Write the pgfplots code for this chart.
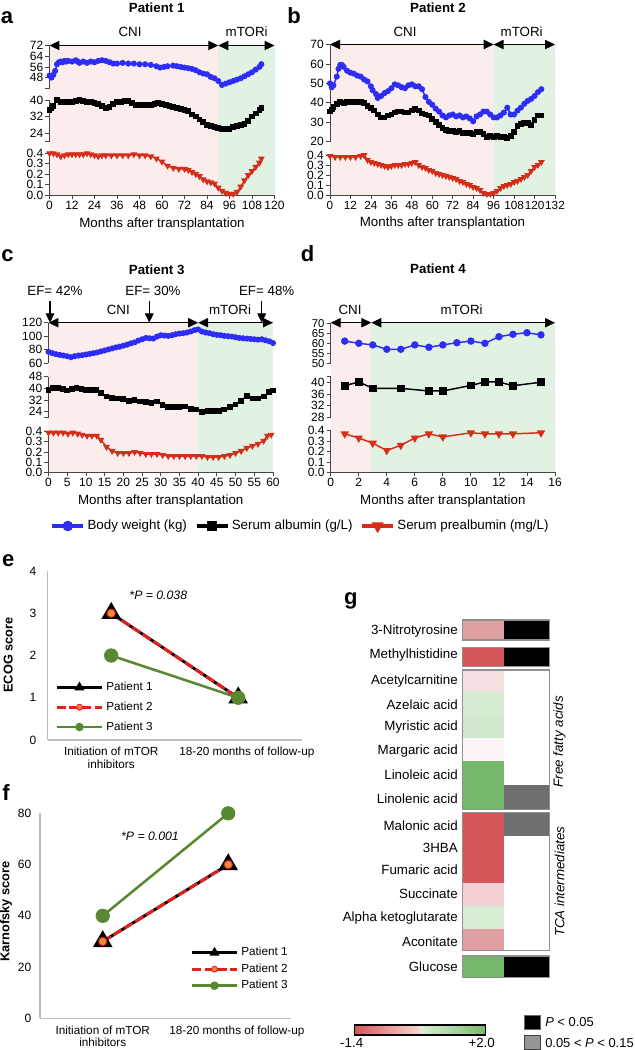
\documentclass[border=0pt]{standalone}
\usepackage{fontspec}
\setmainfont{Liberation Sans}
\usepackage{pgfplots}
\pgfplotsset{compat=1.18}
\usetikzlibrary{arrows.meta}
\def\px{0.75pt}
\newcommand\tickfont{\fontsize{9}{9.5}\selectfont}
\newcommand\lblfont{\fontsize{10}{12}\selectfont}
\newcommand\sfont{\fontsize{8.8}{9.4}\selectfont}
\newcommand\titlefont{\fontsize{10}{12}\selectfont\bfseries}
\newcommand\letterfont{\fontsize{16.5}{18}\selectfont\bfseries}
\definecolor{bwblue}{RGB}{45,45,245}
\definecolor{pared}{RGB}{212,45,25}
\definecolor{bgpink}{RGB}{251,237,236}
\definecolor{bggreen}{RGB}{226,242,226}
\definecolor{axgray}{RGB}{70,70,70}
\definecolor{lightax}{RGB}{190,190,190}
\definecolor{pgreen}{RGB}{88,136,48}
\definecolor{porange}{RGB}{232,140,60}
\definecolor{pred}{RGB}{228,32,28}
\definecolor{hmred}{RGB}{211,87,88}
\definecolor{hmpink}{RGB}{224,160,162}
\definecolor{hmgreen}{RGB}{116,184,106}
\definecolor{hmgrey}{RGB}{110,110,110}
\definecolor{frgray}{RGB}{145,145,145}
\pgfplotsset{
  /pgf/number format/assume math mode=true,
  bgax/.style={scale only axis, anchor=north west, axis y line=none, axis x line=bottom,
    x axis line style={-, draw=axgray, line width=0.6pt}, xtick style={draw=axgray, line width=0.6pt},
    tick align=outside, major tick length=3pt, xticklabel style={font=\tickfont, inner xsep=0pt, inner ysep=1.5pt},
    ymin=0, ymax=1, clip=false, axis on top, xlabel={Months after transplantation},
    xlabel style={font=\lblfont, inner sep=1pt, yshift=-3pt}},
  seg/.style={scale only axis, anchor=north west, axis x line=none, axis y line=left,
    y axis line style={-, draw=axgray, line width=0.6pt}, ytick style={draw=axgray, line width=0.6pt},
    tick align=outside, major tick length=3pt, yticklabel style={font=\tickfont, inner xsep=1.5pt, inner ysep=0pt},
    clip=false, xtick=\empty},
  bw/.style={color=bwblue, line width=1.1pt, mark=*, mark size=1.7pt, mark options={solid, fill=bwblue}},
  alb/.style={color=black, line width=1.1pt, mark=square*, mark size=1.6pt, mark options={solid, fill=black}},
  pre/.style={color=pared, line width=1.1pt, mark=triangle*, mark size=1.9pt, mark options={solid, fill=pared, rotate=180}},
  scoreax/.style={scale only axis, anchor=south west, xmin=-0.5, xmax=1.5, xtick={0,1},
    xticklabels={{Initiation of mTOR\\inhibitors},{\hbox{\kern13pt 18-20 months of follow-up}}},
    xticklabel style={font=\sfont, align=center, yshift=-2pt},
    yticklabel style={font=\fontsize{9}{9}\selectfont},
    axis x line*=bottom, axis y line*=left, axis line style={-, draw=lightax, line width=0.8pt},
    major tick length=0pt, tick style={draw=none}, clip=false,
    legend style={draw=none, fill=none, font=\sfont, inner sep=0pt, cells={anchor=west}},
    legend cell align=left,
    legend image code/.code={\draw[mark repeat=2,mark phase=2,##1] plot coordinates {(0pt,0pt) (17pt,0pt) (34pt,0pt)};},
    legend image post style={mark size=2.2pt}},
  p1/.style={color=black, line width=2.2pt, mark=triangle*, mark size=6.3pt, mark options={solid, fill=black}},
  p2/.style={color=pred, line width=2.2pt, dash pattern=on 7pt off 2.5pt, mark=*, mark size=3.1pt, mark options={solid, fill=porange, draw=pred, line width=0.7pt}},
  p3/.style={color=pgreen, line width=1.9pt, mark=*, mark size=4.4pt, mark options={solid, fill=pgreen}},
}
\tikzset{dbl/.style={{Triangle[length=7.5pt,width=7pt]}-{Triangle[length=7.5pt,width=7pt]}, line width=0.8pt},
  efarrow/.style={-{Triangle[length=7pt,width=6.5pt]}, line width=0.8pt}}
\newcommand{\hcell}[5]{\addplot[draw=none, fill=#1] coordinates {(#2,#4) (#3,#4) (#3,#5) (#2,#5)} -- cycle;}
\begin{document}
\begin{tikzpicture}
\useasboundingbox (0,0) rectangle (635*\px,-1050*\px);
% ================= Panel a =================
\begin{axis}[bgax, at={(49.5*\px,-45.5*\px)}, width=168.75pt, height=112.13pt, xmin=0, xmax=120, xtick={0,12,...,120}]
\addplot[draw=none, fill=bgpink] coordinates {(0,0) (90,0) (90,1) (0,1)} -- cycle;
\addplot[draw=none, fill=bggreen] coordinates {(90,0) (120,0) (120,1) (90,1)} -- cycle;
\draw[dbl] (axis cs:0,1) -- (axis cs:90,1);
\draw[dbl] (axis cs:90,1) -- (axis cs:120,1);
\end{axis}
\begin{axis}[seg, at={(49.5*\px,-45.5*\px)}, width=168.75pt, height=32.1pt, xmin=0, xmax=120, ymin=40, ymax=72, ytick={40,48,56,64,72}, yticklabels={,48,56,64,72}]
\addplot[bw] coordinates {(0,49.5) (1,48) (2,50) (3,53) (4,58) (5,59.5) (6,60) (7,59.5) (8,60.5) (9,60) (10,60.5) (12,60) (14,61) (15,60) (16,59) (18,60) (20,59) (22,60) (24,59.5) (26,60.5) (28,61) (30,60.5) (32,59.5) (34,58.5) (36,58.5) (39,59) (42,58.5) (45,58.5) (48,58) (51,58) (54,57.5) (57,56.5) (59,55.5) (61,56) (63,56.5) (66,57) (68,56.5) (70,56) (72,55.5) (74,55) (76,54.5) (78,53.5) (80,52) (82,51) (84,50.5) (86,48.5) (88,47.5) (90,45.5) (92,42.5) (94,43.5) (96,44.5) (98,45.5) (100,46.5) (102,47.5) (104,49) (106,50.5) (108,52) (110,54) (112,56) (113,58)};
\end{axis}
\begin{axis}[seg, at={(49.5*\px,-100*\px)}, width=168.75pt, height=30.98pt, xmin=0, xmax=120, ymin=20, ymax=40, ytick={20,24,32,40}, yticklabels={,24,32,40}]
\addplot[alb] coordinates {(0,35) (1,36) (2,37) (4,40) (6,39) (8,39) (10,39) (12,39) (14,39.5) (16,40) (18,39.5) (20,39) (22,39) (24,38.5) (26,38) (28,37) (30,36) (32,36.5) (34,38) (36,39) (38,39) (40,39.5) (42,39.5) (44,38.5) (46,37.5) (48,37.5) (50,37.5) (52,37.5) (54,37.5) (56,38) (58,38.5) (60,38) (62,37.5) (64,37) (66,36.5) (68,36) (70,35.5) (72,35) (74,34.5) (76,33) (78,32) (80,30.5) (82,29.5) (84,28) (86,27.5) (88,27) (90,26.5) (92,26) (94,26) (96,26) (98,27) (100,27.5) (102,28) (104,28.5) (106,30) (108,32) (110,33.5) (112,35) (113,36)};
\end{axis}
\begin{axis}[seg, at={(49.5*\px,-153.3*\px)}, width=168.75pt, height=31.28pt, xmin=0, xmax=120, ymin=0, ymax=0.4, ytick={0,0.1,0.2,0.3,0.4}, yticklabels={0.0,0.1,0.2,0.3,0.4}]
\addplot[pre] coordinates {(0,0.40) (2,0.40) (4,0.39) (6,0.37) (8,0.38) (10,0.39) (12,0.39) (14,0.39) (16,0.39) (18,0.39) (20,0.40) (22,0.39) (24,0.38) (26,0.37) (28,0.38) (30,0.38) (33,0.38) (36,0.38) (39,0.38) (42,0.38) (45,0.39) (48,0.38) (51,0.38) (54,0.37) (57,0.35) (60,0.32) (63,0.28) (66,0.26) (69,0.25) (72,0.25) (74,0.24) (76,0.22) (78,0.20) (80,0.18) (82,0.15) (84,0.13) (86,0.12) (88,0.11) (90,0.07) (92,0.04) (94,0.02) (96,0.01) (98,0.01) (100,0.03) (102,0.08) (104,0.14) (106,0.19) (108,0.23) (110,0.27) (112,0.31) (113,0.35)};
\end{axis}
\node[font=\letterfont] at (7*\px,-17.5*\px) {a};
\node[font=\titlefont] at (156.7*\px,-7.5*\px) {Patient 1};
\node[font=\lblfont] at (130*\px,-32*\px) {CNI};
\node[font=\lblfont] at (246.7*\px,-32*\px) {mTORi};
% ================= Panel b =================
\begin{axis}[bgax, at={(330*\px,-44.5*\px)}, width=168.75pt, height=112.88pt, xmin=0, xmax=132, xtick={0,12,...,132},
  xticklabel style={font=\fontsize{8.8}{9.5}\selectfont}]
\addplot[draw=none, fill=bgpink] coordinates {(0,0) (96,0) (96,1) (0,1)} -- cycle;
\addplot[draw=none, fill=bggreen] coordinates {(96,0) (132,0) (132,1) (96,1)} -- cycle;
\draw[dbl] (axis cs:0,1) -- (axis cs:96,1);
\draw[dbl] (axis cs:96,1) -- (axis cs:132,1);
\end{axis}
\begin{axis}[seg, at={(330*\px,-44.5*\px)}, width=168.75pt, height=72.9pt, xmin=0, xmax=132, ymin=20, ymax=70, ytick={20,30,...,70}]
\addplot[bw] coordinates {(0,50) (1,48) (2,49) (4,53.5) (5,57.5) (6,59.5) (7,59.5) (8,58.5) (10,56.5) (12,55.5) (14,55) (16,54) (18,53.5) (20,52) (22,51) (24,48.5) (25,46.5) (27,44.5) (28,42.5) (30,43.5) (32,45) (34,46) (36,47.5) (38,49.5) (40,49) (42,48) (44,47.5) (46,49) (48,49.5) (50,48.5) (52,48.5) (54,47) (56,43) (58,40.5) (60,39) (62,37) (64,35.5) (66,33.5) (68,32.5) (70,33.5) (72,34) (74,33) (76,33.5) (78,32.5) (80,33) (82,32) (84,30.5) (86,33) (88,34) (90,35.5) (92,35.5) (94,34) (96,32.5) (98,32.5) (100,33.5) (102,35) (104,37.5) (106,34) (108,34) (110,36) (112,37.5) (114,39.5) (116,41) (118,42) (120,43.5) (122,45.5) (124,47)};
\addplot[alb] coordinates {(0,35.5) (1,36.5) (2,38) (4,39.5) (6,40.5) (8,40) (10,40.5) (12,40.5) (14,40.5) (16,40.5) (18,40.5) (20,40) (22,38.5) (24,37.5) (26,36) (28,34) (30,32.5) (32,32.5) (34,33.5) (36,34) (38,35) (40,35.5) (42,35.5) (44,35) (46,35) (48,36) (50,37) (52,36) (54,34.5) (56,34) (58,33.5) (60,31.5) (62,30) (64,28.5) (66,27) (68,26) (70,25.5) (72,25.5) (74,25) (76,25.5) (78,24.5) (80,24.5) (82,24.5) (84,24) (86,25) (88,25) (90,24) (92,22.5) (94,23) (96,22.5) (98,23) (100,22.5) (102,22.5) (104,22) (106,23) (108,25) (110,28) (112,29) (114,29.5) (116,29.5) (118,28.5) (120,31) (122,33.5) (124,33.5)};
\end{axis}
\begin{axis}[seg, at={(330*\px,-155*\px)}, width=168.75pt, height=30pt, xmin=0, xmax=132, ymin=0, ymax=0.4, ytick={0,0.1,0.2,0.3,0.4}, yticklabels={0.0,0.1,0.2,0.3,0.4}]
\addplot[pre] coordinates {(0,0.39) (3,0.38) (6,0.38) (9,0.38) (12,0.38) (15,0.38) (18,0.39) (20,0.40) (22,0.35) (24,0.33) (26,0.32) (28,0.31) (30,0.30) (32,0.29) (34,0.28) (36,0.29) (38,0.30) (40,0.30) (42,0.30) (44,0.31) (46,0.31) (48,0.32) (50,0.33) (52,0.30) (54,0.28) (56,0.27) (58,0.25) (60,0.24) (62,0.22) (64,0.21) (66,0.20) (68,0.19) (70,0.18) (72,0.17) (74,0.16) (76,0.14) (78,0.13) (80,0.11) (82,0.10) (84,0.08) (86,0.07) (88,0.05) (90,0.02) (92,0.01) (94,0.01) (96,0.02) (98,0.04) (100,0.07) (102,0.09) (104,0.10) (106,0.11) (108,0.13) (110,0.14) (112,0.16) (114,0.18) (116,0.20) (118,0.24) (120,0.28) (122,0.30) (124,0.33)};
\end{axis}
\node[font=\letterfont] at (294*\px,-15.8*\px) {b};
\node[font=\titlefont] at (438*\px,-7.5*\px) {Patient 2};
\node[font=\lblfont] at (405*\px,-32*\px) {CNI};
\node[font=\lblfont] at (521.7*\px,-32*\px) {mTORi};
% ================= Panel c =================
\begin{axis}[bgax, at={(48.5*\px,-322.7*\px)}, width=168.38pt, height=112.2pt, xmin=0, xmax=60, xtick={0,5,...,60}]
\addplot[draw=none, fill=bgpink] coordinates {(0,0) (40,0) (40,1) (0,1)} -- cycle;
\addplot[draw=none, fill=bggreen] coordinates {(40,0) (60,0) (60,1) (40,1)} -- cycle;
\draw[dbl] (axis cs:0,1) -- (axis cs:40,1);
\draw[dbl] (axis cs:40,1) -- (axis cs:60,1);
\end{axis}
\begin{axis}[seg, at={(48.5*\px,-322.7*\px)}, width=168.38pt, height=30.45pt, xmin=0, xmax=60, ymin=60, ymax=120, ytick={60,80,100,120}]
\addplot[bw] coordinates {(0,77) (1,75) (2,73.5) (3,72.5) (4,71.5) (5,70.5) (6,69) (7,70.5) (8,71.5) (9,72) (10,73) (11,74) (12,75) (13,76) (14,77.5) (15,79) (16,80.5) (17,82) (18,83.5) (19,84.5) (20,86) (21,87.5) (22,89.5) (23,91) (24,93.5) (25,95.5) (26,97.5) (27,97) (28,96.5) (29,99.5) (30,101.5) (31,101) (32,100.5) (33,101.5) (34,103) (35,104) (36,104.5) (37,105.5) (38,107) (39,109) (40,110) (41,107) (42,105.5) (43,104.5) (44,103) (45,102) (46,101.5) (47,100.5) (48,100) (49,99.5) (50,98.5) (51,97.5) (52,97) (53,96.5) (54,96) (55,95.5) (56,95) (57,95.5) (58,94) (59,92.5) (60,90)};
\end{axis}
\begin{axis}[seg, at={(48.5*\px,-376.7*\px)}, width=168.38pt, height=30.6pt, xmin=0, xmax=60, ymin=20, ymax=48, ytick={20,24,32,40,48}, yticklabels={,24,32,40,48}]
\addplot[alb] coordinates {(0,39) (1.3,40) (2.6,40.5) (3.9,39.5) (5,38.5) (6.3,39.5) (7.5,40.5) (8.8,39.5) (10,39) (11.3,39) (12.6,39) (14,37) (15.5,34.5) (17,33.5) (18.5,33) (20,32.5) (21.5,31.5) (23,32) (24.5,31) (26,30.5) (27.5,30) (29,31) (30.5,28.5) (32,27) (33.5,27) (35,27) (36.5,27.5) (38,26) (39.5,25.5) (41,24) (42.5,24.5) (44,24.5) (45.5,24.5) (47,25.5) (48.5,27) (50,29) (51.5,31.5) (53,35) (54.5,33) (56,33) (57.5,34.5) (59,37.5) (60,38.5)};
\end{axis}
\begin{axis}[seg, at={(48.5*\px,-431.7*\px)}, width=168.38pt, height=30.45pt, xmin=0, xmax=60, ymin=0, ymax=0.4, ytick={0,0.1,0.2,0.3,0.4}, yticklabels={0.0,0.1,0.2,0.3,0.4}]
\addplot[pre] coordinates {(0,0.39) (1.3,0.39) (2.6,0.39) (3.9,0.39) (5.2,0.38) (6.5,0.39) (7.8,0.38) (9,0.37) (10.3,0.36) (11.6,0.36) (12.9,0.36) (14,0.32) (15.5,0.25) (17,0.21) (18.5,0.19) (20,0.19) (21.5,0.19) (23,0.20) (24.5,0.19) (26,0.18) (27.5,0.18) (29,0.18) (30.5,0.17) (32,0.16) (33.5,0.16) (35,0.16) (36.5,0.16) (38,0.16) (39.5,0.16) (41,0.16) (42.5,0.15) (44,0.15) (45.5,0.15) (47,0.16) (48.5,0.17) (50,0.19) (51.5,0.21) (53,0.24) (54.5,0.26) (56,0.28) (57.5,0.31) (58.5,0.36) (59.5,0.37)};
\end{axis}
\node[font=\letterfont] at (7.5*\px,-255.8*\px) {c};
\node[font=\titlefont] at (156.7*\px,-269.3*\px) {Patient 3};
\node[font=\lblfont] at (118.3*\px,-310*\px) {CNI};
\node[font=\lblfont] at (230*\px,-310*\px) {mTORi};
\node[font=\lblfont] at (55*\px,-291*\px) {EF= 42\%};
\node[font=\lblfont] at (153*\px,-291*\px) {EF= 30\%};
\node[font=\lblfont] at (266.7*\px,-291*\px) {EF= 48\%};
\draw[efarrow] (50*\px,-301*\px) -- (50*\px,-322.7*\px);
\draw[efarrow] (149.3*\px,-301*\px) -- (149.3*\px,-322.7*\px);
\draw[efarrow] (261.7*\px,-301*\px) -- (261.7*\px,-322.7*\px);
% ================= Panel d =================
\begin{axis}[bgax, at={(330.7*\px,-322.7*\px)}, width=168.23pt, height=112.2pt, xmin=0, xmax=16, xtick={0,2,...,16}]
\addplot[draw=none, fill=bgpink] coordinates {(0,0) (2.9,0) (2.9,1) (0,1)} -- cycle;
\addplot[draw=none, fill=bggreen] coordinates {(2.9,0) (16,0) (16,1) (2.9,1)} -- cycle;
\draw[dbl] (axis cs:0,1) -- (axis cs:2.9,1);
\draw[dbl] (axis cs:2.9,1) -- (axis cs:16,1);
\end{axis}
\begin{axis}[seg, at={(330.7*\px,-323.3*\px)}, width=168.23pt, height=30pt, xmin=0, xmax=16, ymin=50, ymax=70, ytick={50,55,60,65,70},
  yticklabel style={font=\fontsize{8.5}{9}\selectfont}]
\addplot[bw, mark size=2.2pt] coordinates {(1,61.1) (2,60) (3,59.2) (4,57) (5,57) (6,59.2) (7,58) (8,59.2) (9,60.3) (10,61.1) (11,60) (12,63.3) (13,64.5) (14,65.3) (15,64.2)};
\end{axis}
\begin{axis}[seg, at={(330.7*\px,-376.1*\px)}, width=168.23pt, height=31.05pt, xmin=0, xmax=16, ymin=28, ymax=42.2, ytick={28,32,36,40,42.2}, yticklabels={28,32,36,40,}]
\addplot[alb, mark size=2.3pt] coordinates {(1,38.9) (2,40.2) (3,38) (5,38) (7,37.1) (8,37.1) (10,39) (11,40.2) (12,40.2) (13,38.9) (15,40.1)};
\end{axis}
\begin{axis}[seg, at={(330.7*\px,-430.7*\px)}, width=168.23pt, height=31.2pt, xmin=0, xmax=16, ymin=0, ymax=0.4, ytick={0,0.1,0.2,0.3,0.4}, yticklabels={0.0,0.1,0.2,0.3,0.4}]
\addplot[pre, mark size=2.6pt] coordinates {(1,0.37) (2,0.33) (3,0.28) (4,0.21) (5,0.26) (6,0.33) (7,0.37) (8,0.34) (10,0.38) (11,0.37) (12,0.37) (13,0.37) (15,0.38)};
\end{axis}
\node[font=\letterfont] at (307.5*\px,-253.3*\px) {d};
\node[font=\titlefont] at (438*\px,-268.3*\px) {Patient 4};
\node[font=\lblfont] at (350*\px,-310*\px) {CNI};
\node[font=\lblfont] at (461.7*\px,-310*\px) {mTORi};
% ================= shared legend =================
\begin{axis}[hide axis, scale only axis, width=10pt, height=10pt, at={(301*\px,-526*\px)}, anchor=center,
  xmin=0, xmax=1, ymin=0, ymax=1, legend columns=3,
  legend style={at={(0.5,0.5)}, anchor=center, draw=none, fill=none, font=\lblfont, inner sep=0pt,
    /tikz/every even column/.append style={column sep=4pt}},
  legend image code/.code={\draw[mark repeat=2,mark phase=2,#1] plot coordinates {(0pt,0pt) (11.6pt,0pt) (23.25pt,0pt)};}]
\addlegendimage{color=bwblue, line width=2.4pt, mark=*, mark size=2.7pt, mark options={solid, fill=bwblue}}
\addlegendentry{Body weight (kg)}
\addlegendimage{color=black, line width=2.4pt, mark=square*, mark size=2.6pt, mark options={solid, fill=black}}
\addlegendentry{Serum albumin (g/L)}
\addlegendimage{color=pared, line width=2.4pt, mark=triangle*, mark size=3pt, mark options={solid, fill=pared, rotate=180}}
\addlegendentry{Serum prealbumin (mg/L)}
\end{axis}
% ================= Panel e =================
\begin{axis}[scoreax, at={(47.7*\px,-740*\px)}, width=190.5pt, height=126.75pt, ymin=0, ymax=4, ytick={0,1,2,3,4},
  yticklabel style={xshift=-5pt}, legend style={at={(0.029,0.36)}, anchor=north west, row sep=3pt}]
\addplot[p1] coordinates {(0,3) (1,1)};
\addlegendentry{Patient 1}
\addplot[p2] coordinates {(0,3) (1,1)};
\addlegendentry{Patient 2}
\addplot[p3] coordinates {(0,2) (1,1)};
\addlegendentry{Patient 3}
\end{axis}
\node[font=\letterfont] at (8.3*\px,-561*\px) {e};
\node[rotate=90, font=\fontsize{9.6}{10}\selectfont\bfseries] at (8.3*\px,-655*\px) {ECOG score};
\node[font=\fontsize{9.2}{10}\selectfont\itshape] at (158.3*\px,-595*\px) {*P = 0.038};
% ================= Panel f =================
\begin{axis}[scoreax, at={(40*\px,-1018.3*\px)}, width=188.25pt, height=153.75pt, ymin=0, ymax=80, ytick={0,20,...,80},
  yticklabel style={xshift=-3pt}, legend style={at={(0.598,0.36)}, anchor=north west, row sep=0.5pt}]
\addplot[p1] coordinates {(0,30) (1,60)};
\addlegendentry{Patient 1}
\addplot[p2] coordinates {(0,30) (1,60)};
\addlegendentry{Patient 2}
\addplot[p3] coordinates {(0,40) (1,80)};
\addlegendentry{Patient 3}
\end{axis}
\node[font=\letterfont] at (6*\px,-793*\px) {f};
\node[rotate=90, font=\fontsize{9.6}{10}\selectfont\bfseries] at (6*\px,-911.7*\px) {Karnofsky score};
\node[font=\fontsize{9.2}{10}\selectfont\itshape] at (150*\px,-836.7*\px) {*P = 0.001};
% ================= Panel g =================
\begin{axis}[scale only axis, anchor=north west, at={(460*\px,-615*\px)}, width=75pt, height=273.75pt,
  xmin=460, xmax=560, ymin=615, ymax=980, y dir=reverse, axis x line=none, axis y line=left,
  y axis line style={draw=none}, ytick style={draw=none}, major tick length=0pt, clip=false,
  ytick={631,655,680.7,705,727.3,751,775,799,826,848.3,869.3,893.3,918.3,941.7,966.7},
  yticklabels={3-Nitrotyrosine,Methylhistidine,Acetylcarnitine,Azelaic acid,Myristic acid,Margaric acid,Linoleic acid,Linolenic acid,Malonic acid,3HBA,Fumaric acid,Succinate,Alpha ketoglutarate,Aconitate,Glucose},
  yticklabel style={font=\lblfont, inner xsep=1.5pt, inner ysep=0pt}]
\hcell{hmpink}{462.7}{504.3}{620}{640}
\hcell{black}{504.3}{549.3}{620}{640}
\hcell{hmred}{462.7}{504.3}{647.3}{666.7}
\hcell{black}{504.3}{549.3}{647.3}{666.7}
\hcell{white}{462.7}{549.3}{670}{809.3}
\hcell{{rgb,255:red,245;green,223;blue,224}}{462.7}{504.3}{671}{690.7}
\hcell{{rgb,255:red,214;green,235;blue,210}}{462.7}{504.3}{690.7}{715}
\hcell{{rgb,255:red,210;green,232;blue,206}}{462.7}{504.3}{715}{738.3}
\hcell{{rgb,255:red,252;green,244;blue,245}}{462.7}{504.3}{738.3}{761}
\hcell{hmgreen}{462.7}{504.3}{761}{808.5}
\hcell{hmgrey}{504.3}{549.3}{785}{808.5}
\hcell{hmred}{462.7}{504.3}{813.3}{882.7}
\hcell{hmgrey}{504.3}{549.3}{813.3}{836}
\hcell{{rgb,255:red,242;green,208;blue,212}}{462.7}{504.3}{882.7}{905.7}
\hcell{{rgb,255:red,216;green,236;blue,212}}{462.7}{504.3}{905.7}{929}
\hcell{hmpink}{462.7}{504.3}{929}{950.7}
\hcell{hmgreen}{462.7}{504.3}{956}{977.3}
\hcell{black}{504.3}{549.3}{956}{977.3}
\draw[frgray, line width=1.1pt] (axis cs:462.7,620) rectangle (axis cs:549.3,640);
\draw[frgray, line width=1.1pt] (axis cs:462.7,647.3) rectangle (axis cs:549.3,666.7);
\draw[frgray, line width=1.1pt] (axis cs:462.7,670) rectangle (axis cs:549.3,809.3);
\draw[frgray, line width=1.1pt] (axis cs:462.7,812.7) rectangle (axis cs:549.3,950.7);
\draw[frgray, line width=1.1pt] (axis cs:462.7,956) rectangle (axis cs:549.3,977.3);
\end{axis}
\node[font=\letterfont] at (350.8*\px,-601*\px) {g};
\node[rotate=90, font=\lblfont\itshape] at (559.5*\px,-741.7*\px) {Free fatty acids};
\node[rotate=90, font=\lblfont\itshape] at (559.5*\px,-881.7*\px) {TCA intermediates};
% colour bar
\shade[left color={rgb,255:red,215;green,85;blue,87}, right color={rgb,255:red,246;green,215;blue,216}] (354.3*\px,-1025*\px) rectangle (420*\px,-1035*\px);
\shade[left color={rgb,255:red,222;green,239;blue,217}, right color={rgb,255:red,120;green,185;blue,105}] (420*\px,-1025*\px) rectangle (485.7*\px,-1035*\px);
\draw[line width=0.8pt] (354.3*\px,-1025*\px) rectangle (485.7*\px,-1035*\px);
\node[font=\lblfont] at (351.7*\px,-1043*\px) {-1.4};
\node[font=\lblfont] at (481.7*\px,-1043*\px) {+2.0};
\filldraw[fill=black, draw=black!60, line width=0.6pt] (524.3*\px,-1015*\px) rectangle (540*\px,-1029.3*\px);
\filldraw[fill={rgb,255:red,150;green,150;blue,150}, draw=black!75, line width=0.6pt] (524.3*\px,-1035*\px) rectangle (540*\px,-1049.3*\px);
\node[font=\fontsize{9.7}{11}\selectfont, anchor=west, inner sep=0pt] at (545*\px,-1022.3*\px) {\textit{P} < 0.05};
\node[font=\fontsize{9.7}{11}\selectfont, anchor=west, inner sep=0pt] at (545*\px,-1042.7*\px) {0.05 < \textit{P} < 0.15};
\end{tikzpicture}
\end{document}
